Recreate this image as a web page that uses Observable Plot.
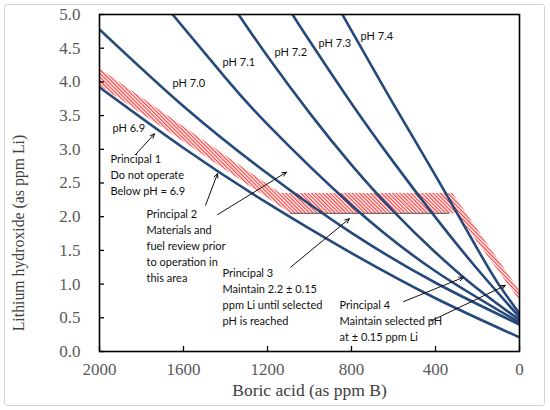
<!DOCTYPE html>
<html>
<head>
<meta charset="utf-8">
<script src="https://cdn.jsdelivr.net/npm/d3@7"></script>
<script src="https://cdn.jsdelivr.net/npm/@observablehq/plot@0.6"></script>
<style>
  html, body { margin: 0; padding: 0; background: #fff; }
  #wrap { position: relative; width: 550px; height: 410px; }
  #border { position: absolute; left: 4px; top: 4px; width: 539px; height: 400px; border: 1px solid #d4d4d4; border-radius: 3px; pointer-events: none; }
  #chart { position: absolute; left: 0; top: 0; }
</style>
</head>
<body>
<div id="wrap"><div id="chart"></div><div id="border"></div></div>
<script>
// ---- data ----
const xTicks = [2000, 1600, 1200, 800, 400, 0];
const yTicks = [0, 0.5, 1, 1.5, 2, 2.5, 3, 3.5, 4, 4.5, 5];
const xTitle = "Boric acid (as ppm B)";
const yTitle = "Lithium hydroxide (as ppm Li)";

const ph69B = [2000, 1600, 1200, 800, 400, 0];
const ph69Li = [3.92, 3.02, 2.20, 1.46, 0.79, 0.21];
const ph70B = [2000, 1600, 1200, 800, 400, 0];
const ph70Li = [4.78, 3.64, 2.64, 1.76, 1.02, 0.40];
const ph71B = [1652, 1400, 1200, 800, 400, 0];
const ph71Li = [5.0, 4.06, 3.37, 2.17, 1.19, 0.43];
const ph72B = [1338, 1200, 1000, 800, 600, 400, 200, 0];
const ph72Li = [5.0, 4.38, 3.54, 2.77, 2.08, 1.47, 0.93, 0.47];
const ph73B = [1081, 1000, 800, 600, 400, 200, 0];
const ph73Li = [5.0, 4.61, 3.68, 2.81, 1.99, 1.22, 0.51];
const ph74B = [843, 800, 600, 400, 200, 100, 0];
const ph74Li = [5.0, 4.76, 3.67, 2.61, 1.52, 1.0, 0.56];

const phNames = ["pH 6.9", "pH 7.0", "pH 7.1", "pH 7.2", "pH 7.3", "pH 7.4"];
const phLabelB = [1938, 1652, 1414, 1167, 957, 757];
const phLabelLi = [3.31, 3.98, 4.29, 4.44, 4.57, 4.67];

// hatched operating band (polygon vertices)
const bandB = [2000, 1140, 320, 0, 0, 300, 1090, 2000];
const bandLi = [4.2, 2.35, 2.35, 0.9, 0.76, 2.05, 2.05, 3.95];

// thin grey line at lower edge of 2.2 ± 0.15 band
const greyB = [1090, 338];
const greyLi = [2.05, 2.05];

const annoText = [
  "Principal 1\nDo not operate\nBelow pH = 6.9",
  "Principal 2\nMaterials and\nfuel review prior\nto operation in\nthis area",
  "Principal 3\nMaintain 2.2 \u00b1 0.15\nppm Li until selected\npH is reached",
  "Principal 4\nMaintain selected pH\nat \u00b1 0.15 ppm Li"
];
const annoB = [1948, 1776, 1414, 857];
const annoLi = [2.63, 1.58, 0.82, 0.47];

const arrowB1 = [1829, 1495, 1438, 1090, 552, 424];
const arrowLi1 = [2.92, 2.17, 2.03, 1.25, 0.74, 0.45];
const arrowB2 = [1738, 1438, 1110, 810, 267, 67];
const arrowLi2 = [3.23, 2.64, 2.66, 1.97, 1.10, 0.98];

// ---- build tables ----
const curveSets = [[ph69B, ph69Li], [ph70B, ph70Li], [ph71B, ph71Li], [ph72B, ph72Li], [ph73B, ph73Li], [ph74B, ph74Li]];
const curves = curveSets.flatMap(([bs, ls], i) => bs.map((b, j) => ({series: phNames[i], b, li: ls[j]})));
const band = bandB.map((b, i) => ({b, li: bandLi[i]}));
const grey = greyB.map((b, i) => ({b, li: greyLi[i]}));
const phLabels = phNames.map((t, i) => ({t, b: phLabelB[i], li: phLabelLi[i]}));
const annos = annoText.map((t, i) => ({t, b: annoB[i], li: annoLi[i]}));
const arrows = arrowB1.map((b, i) => ({b1: b, l1: arrowLi1[i], b2: arrowB2[i], l2: arrowLi2[i]}));

const serif = "'Liberation Serif', 'DejaVu Serif', serif";
const sans = "Lato, 'Open Sans', sans-serif";
const lineColor = "#26497c";

const W = 550, H = 410, mL = 99, mR = 31, mT = 14, mB = 59;
const pw = W - mL - mR, ph = H - mT - mB;

const chart = Plot.plot({
  width: W, height: H,
  marginLeft: mL, marginRight: mR, marginTop: mT, marginBottom: mB,
  style: {background: "transparent", fontFamily: sans},
  x: {domain: [2000, 0], label: null},
  y: {domain: [0, 5], label: null},
  marks: [
    Plot.line(band, {x: "b", y: "li", fill: "url(#hatch)", stroke: "none", curve: "linear-closed"}),
    Plot.line(grey, {x: "b", y: "li", stroke: "#6e6e6e", strokeWidth: 1.3}),
    Plot.line(curves, {x: "b", y: "li", z: "series", stroke: lineColor, strokeWidth: 2.6, curve: "natural", clip: true}),
    Plot.text(phLabels, {x: "b", y: "li", text: "t", textAnchor: "start", fontSize: 11, fill: "#111", fontFamily: sans}),
    Plot.text(annos, {x: "b", y: "li", text: "t", textAnchor: "start", fontSize: 11, lineHeight: 1.45, fill: "#111", fontFamily: sans}),
    Plot.arrow(arrows, {x1: "b1", y1: "l1", x2: "b2", y2: "l2", stroke: "#111", strokeWidth: 1, headLength: 7, headAngle: 50}),
    Plot.frame({stroke: "#000", strokeWidth: 1.6}),
    Plot.tickX(xTicks, {x: d => d, insetTop: ph - 5, stroke: "#000", strokeWidth: 1.3}),
    Plot.tickY(yTicks, {y: d => d, insetRight: pw - 5, stroke: "#000", strokeWidth: 1.3}),
    Plot.axisX({ticks: xTicks, tickSize: 0, tickPadding: 11, tickFormat: d3.format("d"), fontSize: 17, fontFamily: serif, fill: "#595959", label: null}),
    Plot.axisY({ticks: yTicks, tickSize: 0, tickPadding: 19, tickFormat: d3.format(".1f"), fontSize: 17, fontFamily: serif, fill: "#595959", label: null}),
    Plot.text([xTitle], {frameAnchor: "bottom", dy: 44, text: d => d, textAnchor: "middle", fontSize: 17.5, fontFamily: serif, fill: "#404040"}),
    Plot.text([yTitle], {frameAnchor: "left", dx: -81, dy: 50, rotate: -90, text: d => d, textAnchor: "middle", fontSize: 15.8, fontFamily: serif, fill: "#404040"})
  ]
});

const ns = "http://www.w3.org/2000/svg";
const defs = document.createElementNS(ns, "defs");
defs.innerHTML = '<pattern id="hatch" patternUnits="userSpaceOnUse" width="2.6" height="2.6" patternTransform="rotate(-45)">' +
  '<rect width="2.6" height="2.6" fill="#ffffff"/><rect width="1.2" height="2.6" fill="#ff3a3a"/></pattern>';
chart.insertBefore(defs, chart.firstChild);
document.getElementById("chart").appendChild(chart);
</script>
</body>
</html>
